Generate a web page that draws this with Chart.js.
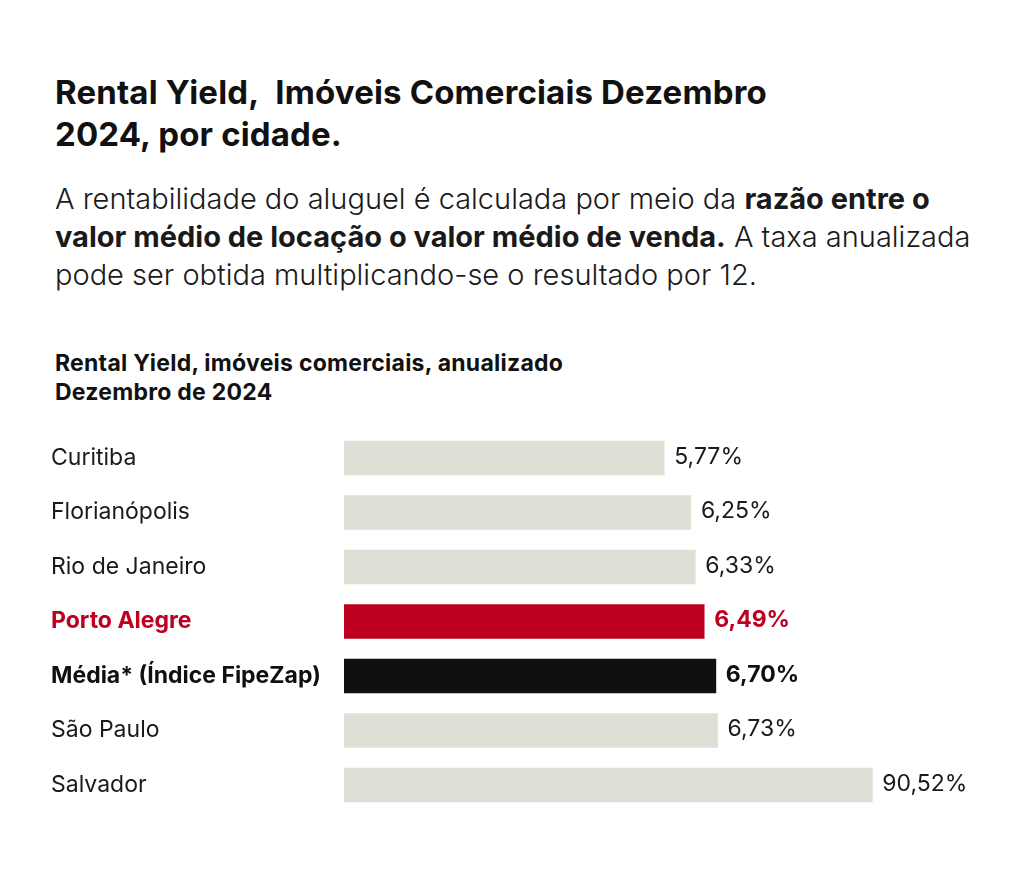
<!DOCTYPE html>
<html>
<head>
<meta charset="utf-8">
<script src="https://cdn.jsdelivr.net/npm/chart.js@4"></script>
<style>
    html, body { margin: 0; padding: 0; background: #fff; }
    body { width: 1022px; height: 880px; position: relative; font-family: Inter, sans-serif; color: #111; }
    .title { position: absolute; left: 55px; top: 71px; font-size: 33px; font-weight: 700; line-height: 42px; letter-spacing: 0.15px; white-space: nowrap; }
    .lead { position: absolute; left: 55px; top: 180px; font-size: 29px; font-weight: 300; line-height: 38px; letter-spacing: 0px; white-space: nowrap; color: #1a1a1a; }
    .lead b { font-weight: 700; }
    .sub { position: absolute; left: 55px; top: 349px; font-size: 23px; font-weight: 700; line-height: 29px; letter-spacing: 0.25px; white-space: nowrap; }
    .wrap { position: absolute; left: 0; top: 417px; width: 1022px; height: 409px; }
</style>
</head>
<body>
<div class="title">Rental Yield,&nbsp; Imóveis Comerciais Dezembro<br>2024, por cidade.</div>
<div class="lead">A rentabilidade do aluguel é calculada por meio da <b>razão entre o</b><br><b>valor médio de locação o valor médio de venda.</b> A taxa anualizada<br>pode ser obtida multiplicando-se o resultado por 12.</div>
<div class="sub">Rental Yield, imóveis comerciais, anualizado<br>Dezembro de 2024</div>
<div class="wrap"><canvas id="chart"></canvas></div>
<script>
const cities = ['Curitiba', 'Florianópolis', 'Rio de Janeiro', 'Porto Alegre', 'Média* (Índice FipeZap)', 'São Paulo', 'Salvador'];
const yieldValues = [5.77, 6.25, 6.33, 6.49, 6.70, 6.73, 9.52];
// labels as printed on the chart (Salvador's says 90,52% though its bar is ~9.5)
const valueLabels = ['5,77%', '6,25%', '6,33%', '6,49%', '6,70%', '6,73%', '90,52%'];

const RED = '#bd0020';
const BLACK = '#0f0f12';
const GREY = '#e0dfd6';

function barColor(i) {
    if (cities[i] === 'Porto Alegre') return RED;
    if (cities[i].startsWith('Média')) return BLACK;
    return GREY;
}
function textColor(i) {
    if (cities[i] === 'Porto Alegre') return RED;
    if (cities[i].startsWith('Média')) return BLACK;
    return '#1a1a1a';
}
function isBold(i) {
    return cities[i] === 'Porto Alegre' || cities[i].startsWith('Média');
}

const valueLabelPlugin = {
    id: 'valueLabels',
    afterDatasetsDraw(chart) {
        const ctx = chart.ctx;
        const meta = chart.getDatasetMeta(0);
        ctx.save();
        ctx.textBaseline = 'middle';
        ctx.textAlign = 'left';
        meta.data.forEach((bar, i) => {
            ctx.font = (isBold(i) ? '700 ' : '400 ') + '23px Inter';
            ctx.fillStyle = textColor(i);
            ctx.fillText(valueLabels[i], bar.x + 10, bar.y - 1);
        });
        ctx.restore();
    }
};

new Chart(document.getElementById('chart'), {
    type: 'bar',
    data: {
        labels: cities,
        datasets: [{
            data: yieldValues,
            backgroundColor: yieldValues.map((v, i) => barColor(i)),
            barThickness: 34,
            borderWidth: 0
        }]
    },
    options: {
        indexAxis: 'y',
        responsive: true,
        maintainAspectRatio: false,
        animation: false,
        layout: { padding: { left: 51, right: 67.5, top: 0, bottom: 0 } },
        plugins: {
            legend: { display: false },
            tooltip: { enabled: false }
        },
        scales: {
            x: {
                display: false,
                min: 0,
                max: 11
            },
            y: {
                grid: { display: false },
                border: { display: false },
                afterFit: function(scale) { scale.width = 293; },
                ticks: {
                    crossAlign: 'far',
                    padding: 0,
                    color: (c) => textColor(c.index),
                    font: (c) => ({ family: 'Inter', size: 23, weight: isBold(c.index) ? '700' : '400' })
                }
            }
        }
    },
    plugins: [valueLabelPlugin]
});
</script>
</body>
</html>
